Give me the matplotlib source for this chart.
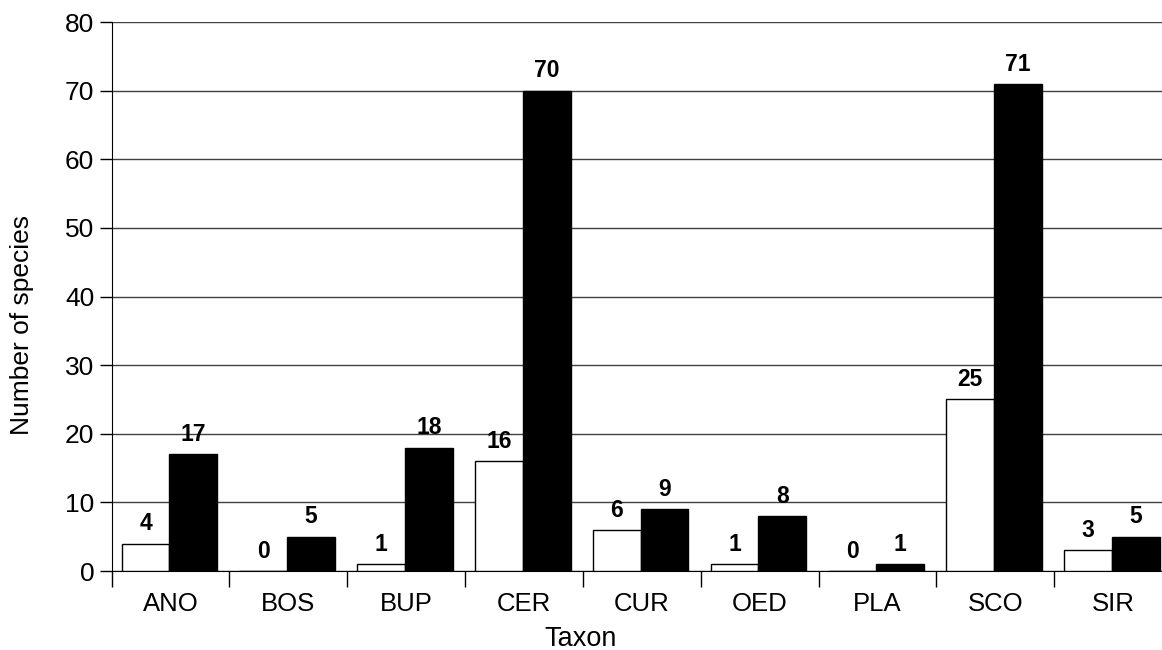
import numpy as np
import matplotlib
matplotlib.use("Agg")
import matplotlib.pyplot as plt
from matplotlib import font_manager

plt.rcParams["font.family"] = ["Liberation Sans", "DejaVu Sans"]

taxa = ["ANO", "BOS", "BUP", "CER", "CUR", "OED", "PLA", "SCO", "SIR"]
white_vals = [4, 0, 1, 16, 6, 1, 0, 25, 3]
black_vals = [17, 5, 18, 70, 9, 8, 1, 71, 5]
y_ticks = [0, 10, 20, 30, 40, 50, 60, 70, 80]

# make sure bold labels use regular-width Liberation Sans Bold (not Narrow)
bold_files = [f.fname for f in font_manager.fontManager.ttflist
              if f.name == "Liberation Sans" and f.weight == 700 and f.style == "normal"]
if bold_files:
    label_font = font_manager.FontProperties(fname=bold_files[0], size=16.5)
else:
    label_font = font_manager.FontProperties(family="DejaVu Sans", weight="bold", size=15)

fig = plt.figure(figsize=(11.62, 6.5), dpi=100)
ax = fig.add_axes([0.0961, 0.1215, 0.9125, 0.8445])

x = np.arange(len(taxa))
w = 0.405
b1 = ax.bar(x - w / 2 - 0.01, white_vals, w, color="white", edgecolor="black", linewidth=1, zorder=3)
b2 = ax.bar(x + w / 2 - 0.01, black_vals, w, color="black", edgecolor="black", linewidth=1, zorder=3)

for bars in (b1, b2):
    ax.bar_label(bars, padding=6, fontproperties=label_font)

ax.set_xlim(-0.5, len(taxa) - 0.5)
ax.set_ylim(0, 80)
ax.set_yticks(y_ticks)
ax.yaxis.grid(True, color="#404040", linewidth=1)
ax.set_axisbelow(True)

# category labels centred, tick marks between categories
ax.set_xticks(x)
ax.set_xticklabels(taxa, fontsize=18.5)
ax.tick_params(axis="x", length=0, pad=15)
ax.set_xticks(np.arange(len(taxa) + 1) - 0.5, minor=True)
ax.tick_params(axis="x", which="minor", length=11.5, width=1, color="black")
ax.tick_params(axis="y", labelsize=19, length=8.5, width=1, pad=4)

for s in ["top", "right"]:
    ax.spines[s].set_visible(False)
ax.spines["left"].set_color("black")
ax.spines["bottom"].set_color("black")

ax.set_xlabel("Taxon", fontsize=19.5)
ax.set_ylabel("Number of species", fontsize=19)
# place axis titles where the reference has them (pixels -> figure fraction)
ax.xaxis.set_label_coords(0.5, (650 - 639) / 650, transform=fig.transFigure)
ax.yaxis.set_label_coords(22 / 1162, 0.5, transform=fig.transFigure)
ax.xaxis.label.set_va("center")
ax.yaxis.label.set_va("center")

fig.savefig("out.png", dpi=100)
